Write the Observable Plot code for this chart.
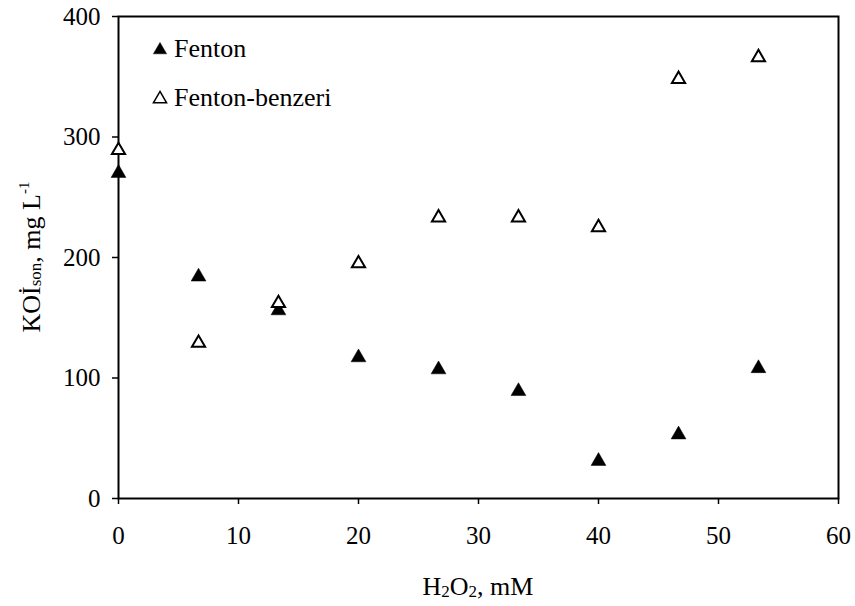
<!DOCTYPE html>
<html>
<head>
<meta charset="utf-8">
<script src="https://cdn.jsdelivr.net/npm/d3@7"></script>
<script src="https://cdn.jsdelivr.net/npm/@observablehq/plot@0.6"></script>
<style>
  html, body { margin: 0; padding: 0; background: #fff; }
  svg text { font-family: "Liberation Serif", "DejaVu Serif", serif; }
</style>
</head>
<body>
<div id="chart"></div>
<script>
// H2O2 dose (mM) and final COD (KOİ, mg/L) for the two treatments
const h2o2 = [0, 6.67, 13.33, 20, 26.67, 33.33, 40, 46.67, 53.33];
const fenton = [270, 184, 156, 117, 107, 89, 31, 53, 108];
const fentonBenzeri = [289, 129, 162, 195, 233, 233, 225, 348, 366];
const xTicks = [0, 10, 20, 30, 40, 50, 60];
const yTicks = [0, 100, 200, 300, 400];
const seriesNames = ["Fenton", "Fenton-benzeri"];

const rowsA = h2o2.map((x, i) => ({x, y: fenton[i]}));
const rowsB = h2o2.map((x, i) => ({x, y: fentonBenzeri[i]}));

const font = "Liberation Serif";

const svg = Plot.plot({
  width: 855,
  height: 606,
  marginLeft: 118,
  marginRight: 17,
  marginTop: 16,
  marginBottom: 108,
  style: {fontFamily: font, fontSize: "25px", color: "#000", background: "#fff"},
  x: {domain: [0, 60], label: null},
  y: {domain: [0, 400], label: null},
  marks: [
    Plot.frame({stroke: "#000", strokeWidth: 2}),
    Plot.axisX({ticks: xTicks, tickSize: 6, tickPadding: 22, label: null, fontSize: 25, strokeWidth: 1.5}),
    Plot.axisY({ticks: yTicks, tickSize: 6, tickPadding: 12, label: null, fontSize: 25, strokeWidth: 1.5}),
    Plot.dot(rowsA, {x: "x", y: "y", symbol: "triangle", r: 5.5, fill: "#000", stroke: "#000", strokeWidth: 0.5}),
    Plot.dot(rowsB, {x: "x", y: "y", symbol: "triangle", r: 4.9, fill: "#fff", stroke: "#000", strokeWidth: 2})
  ]
});

const root = d3.select(svg);

// Axis titles with sub/superscripts
const xt = root.append("text")
  .attr("x", 478).attr("y", 595)
  .attr("text-anchor", "middle")
  .attr("font-size", 26).attr("fill", "#000");
xt.append("tspan").text("H");
xt.append("tspan").attr("font-size", 17).attr("dy", 2).text("2");
xt.append("tspan").attr("dy", -2).text("O");
xt.append("tspan").attr("font-size", 17).attr("dy", 2).text("2");
xt.append("tspan").attr("dy", -2).text(", mM");

const yt = root.append("text")
  .attr("transform", "translate(40,257) rotate(-90)")
  .attr("text-anchor", "middle")
  .attr("font-size", 26).attr("fill", "#000");
yt.append("tspan").text("KOİ");
yt.append("tspan").attr("font-size", 17).attr("dy", 1).text("son");
yt.append("tspan").attr("dy", -1).text(", mg L");
yt.append("tspan").attr("font-size", 15).attr("dy", -11).text("-1");

// Legend
const sym = d3.symbol(d3.symbolTriangle, 75);
const legend = root.append("g").attr("text-anchor", "start");
[
  {name: seriesNames[0], y: 49, fill: "#000", sw: 0.5},
  {name: seriesNames[1], y: 98, fill: "#fff", sw: 1.5}
].forEach(d => {
  legend.append("path")
    .attr("d", sym())
    .attr("transform", `translate(160,${d.y + 1})`)
    .attr("fill", d.fill).attr("stroke", "#000").attr("stroke-width", d.sw);
  legend.append("text")
    .attr("x", 174).attr("y", d.y + 8)
    .attr("text-anchor", "start")
    .attr("font-size", 26).attr("fill", "#000")
    .text(d.name);
});

document.getElementById("chart").appendChild(svg);
</script>
</body>
</html>
